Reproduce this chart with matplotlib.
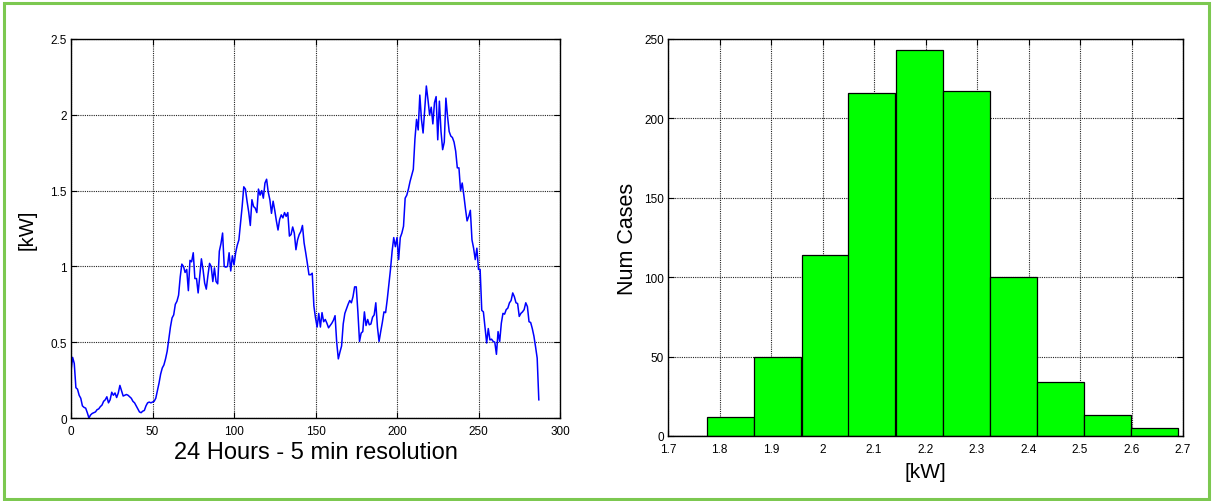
import matplotlib.pyplot as plt
import numpy as np
from matplotlib.patches import Rectangle
from matplotlib.ticker import FormatStrFormatter

plt.rcParams['font.family'] = ['Liberation Sans', 'DejaVu Sans']

# Carga diaria en muestras de 5 minutos (288 muestras = 24 h)
carga_kw = [
    0.31, 0.40, 0.36, 0.20, 0.19, 0.15, 0.13, 0.08, 0.07, 0.065,
    0.035, 0.00, 0.02, 0.03, 0.035, 0.04, 0.055, 0.06, 0.075, 0.085,
    0.11, 0.12, 0.14, 0.10, 0.12, 0.17, 0.15, 0.165, 0.135, 0.165,
    0.215, 0.18, 0.145, 0.15, 0.155, 0.15, 0.14, 0.13, 0.11, 0.10,
    0.08, 0.06, 0.04, 0.035, 0.045, 0.05, 0.08, 0.10, 0.105, 0.10,
    0.105, 0.11, 0.13, 0.18, 0.23, 0.29, 0.33, 0.35, 0.39, 0.44,
    0.52, 0.60, 0.66, 0.68, 0.75, 0.77, 0.81, 0.93, 1.015, 1.00,
    0.96, 0.98, 0.84, 1.04, 1.03, 1.09, 0.92, 0.92, 0.825, 0.94,
    1.05, 0.98, 0.89, 0.85, 0.94, 1.02, 1.00, 0.90, 0.99, 0.90,
    0.885, 1.10, 1.15, 1.22, 1.00, 0.995, 1.00, 1.09, 0.97, 1.07,
    1.01, 1.09, 1.14, 1.175, 1.285, 1.395, 1.525, 1.51, 1.43, 1.36,
    1.27, 1.44, 1.395, 1.385, 1.355, 1.51, 1.47, 1.50, 1.45, 1.55,
    1.575, 1.49, 1.44, 1.35, 1.43, 1.37, 1.30, 1.24, 1.31, 1.34,
    1.32, 1.355, 1.33, 1.355, 1.20, 1.21, 1.26, 1.22, 1.11, 1.175,
    1.21, 1.23, 1.27, 1.155, 1.09, 1.02, 0.945, 0.945, 0.955, 0.74,
    0.66, 0.60, 0.69, 0.60, 0.695, 0.635, 0.65, 0.625, 0.595, 0.61,
    0.625, 0.645, 0.675, 0.50, 0.39, 0.435, 0.475, 0.62, 0.69, 0.72,
    0.75, 0.775, 0.76, 0.80, 0.865, 0.865, 0.70, 0.505, 0.56, 0.57,
    0.70, 0.61, 0.65, 0.615, 0.62, 0.665, 0.68, 0.76, 0.60, 0.505,
    0.57, 0.63, 0.70, 0.695, 0.78, 0.88, 0.98, 1.10, 1.19, 1.13,
    1.19, 1.045, 1.19, 1.22, 1.265, 1.45, 1.47, 1.51, 1.56, 1.60,
    1.64, 1.84, 1.97, 1.90, 2.13, 1.97, 1.88, 2.03, 2.19, 2.10,
    2.00, 2.05, 1.94, 2.08, 2.12, 1.835, 2.09, 1.89, 1.77, 1.82,
    2.11, 1.99, 1.89, 1.86, 1.85, 1.82, 1.76, 1.65, 1.65, 1.50,
    1.55, 1.47, 1.38, 1.30, 1.33, 1.37, 1.175, 1.12, 1.045, 1.12,
    0.98, 0.98, 0.71, 0.70, 0.60, 0.495, 0.59, 0.515, 0.52, 0.505,
    0.50, 0.42, 0.57, 0.505, 0.625, 0.69, 0.685, 0.715, 0.725, 0.76,
    0.775, 0.825, 0.80, 0.76, 0.755, 0.67, 0.69, 0.70, 0.715, 0.76,
    0.735, 0.635, 0.63, 0.59, 0.54, 0.47, 0.395, 0.12,
]

# Histograma de la potencia (centros de clase y casos)
centros_kw = [1.730, 1.822, 1.913, 2.005, 2.096, 2.188, 2.279, 2.370, 2.462, 2.553, 2.644]
num_casos = [0, 12, 50, 114, 216, 243, 217, 100, 34, 13, 5]

x_ticks_izq = [0, 50, 100, 150, 200, 250, 300]
y_ticks_izq = [0, 0.5, 1, 1.5, 2, 2.5]
x_ticks_der = [1.7, 1.8, 1.9, 2.0, 2.1, 2.2, 2.3, 2.4, 2.5, 2.6, 2.7]
y_ticks_der = [0, 50, 100, 150, 200, 250]

W, H = 1213, 502
fig = plt.figure(figsize=(W / 100, H / 100), dpi=100)

# Marco verde alrededor de la figura
fig.patches.append(Rectangle((4 / W, 2 / H), 1 - 8 / W, 1 - 6 / H, transform=fig.transFigure,
                             fill=False, edgecolor='#7cc850', linewidth=2.2))

ax1 = fig.add_axes([71 / W, 1 - 419 / H, (560 - 71) / W, (419 - 40) / H])
ax2 = fig.add_axes([668 / W, 1 - 437 / H, (1183 - 668) / W, (437 - 40) / H])


def estilo(ax):
    ax.grid(True, color='#222222', linestyle=(0, (1, 1)), linewidth=0.8)
    ax.set_axisbelow(True)
    ax.tick_params(direction='in', top=True, right=True, length=4, width=0.8,
                   labelsize=8.5)
    ax.tick_params(axis='x', pad=5)
    ax.tick_params(axis='y', pad=3)
    for s in ax.spines.values():
        s.set_linewidth(1.0)


# Curva de carga
x = np.arange(len(carga_kw))
ax1.plot(x, carga_kw, color='#0000ff', lw=1.1)
ax1.set_xlim(0, 300)
ax1.set_ylim(0, 2.5)
ax1.set_xticks(x_ticks_izq)
ax1.set_yticks(y_ticks_izq)
ax1.yaxis.set_major_formatter(FormatStrFormatter('%g'))
estilo(ax1)
ax1.set_xlabel('24 Hours - 5 min resolution', fontsize=17, labelpad=3)
ax1.set_ylabel('[kW]', fontsize=14.5, labelpad=10)

# Histograma
ancho = 0.0914
ax2.bar(centros_kw, num_casos, width=ancho, color='#00ff00', edgecolor='black', linewidth=0.9)
ax2.set_xlim(1.7, 2.7)
ax2.set_ylim(0, 250)
ax2.set_xticks(x_ticks_der)
ax2.set_yticks(y_ticks_der)
ax2.xaxis.set_major_formatter(FormatStrFormatter('%g'))
estilo(ax2)
ax2.set_xlabel('[kW]', fontsize=15, labelpad=5)
ax2.set_ylabel('Num Cases', fontsize=15.5, labelpad=4)

fig.savefig('out.png', dpi=100)
